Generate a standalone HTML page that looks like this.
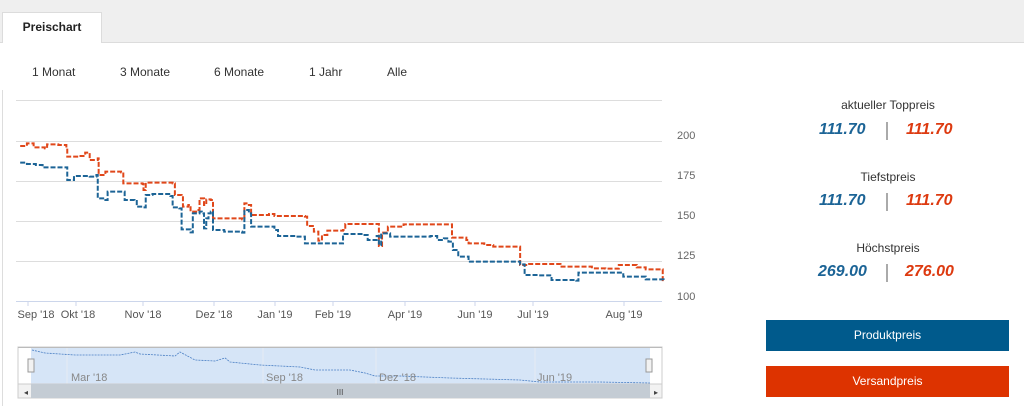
<!DOCTYPE html>
<html><head><meta charset="utf-8"><style>
body{margin:0;width:1024px;height:406px;overflow:hidden;background:#fff;font-family:"Liberation Sans",sans-serif;position:relative}
.top{position:absolute;left:0;top:0;width:1024px;height:42px;background:#efefef;border-bottom:1px solid #dcdcdc}
.tab{position:absolute;left:2px;top:12px;width:100px;height:31px;background:#fff;border:1px solid #dcdcdc;border-bottom:none;box-sizing:border-box;font-weight:bold;font-size:12px;text-align:center;line-height:28px;color:#222}
.rng{position:absolute;top:65px;font-size:12px;color:#333}
.lbl{position:absolute;width:240px;left:768px;text-align:center;font-size:12px;color:#333}
.pr{position:absolute;font-size:16px;font-weight:bold;font-style:italic}
.b{color:#1c6496}.r{color:#dd3a10}
.sep{position:absolute;left:886px;width:2px;height:18px;background:#aaa}
.btn{position:absolute;left:766px;width:243px;height:31px;color:#fff;font-size:12px;text-align:center;line-height:31px}
</style></head><body>
<div class="top"></div><div class="tab">Preischart</div>
<div class="rng" style="left:32px">1 Monat</div>
<div class="rng" style="left:120px">3 Monate</div>
<div class="rng" style="left:214px">6 Monate</div>
<div class="rng" style="left:309px">1 Jahr</div>
<div class="rng" style="left:387px">Alle</div>
<div style="position:absolute;left:2px;top:90px;width:1px;height:316px;background:#ddd"></div>

<svg width="1024" height="406" style="position:absolute;left:0;top:0" font-family="Liberation Sans, sans-serif">
<g stroke="#ddd" stroke-width="1">
<line x1="16" y1="100.5" x2="662" y2="100.5"/><line x1="16" y1="141.5" x2="662" y2="141.5"/>
<line x1="16" y1="181.5" x2="662" y2="181.5"/><line x1="16" y1="221.5" x2="662" y2="221.5"/>
<line x1="16" y1="261.5" x2="662" y2="261.5"/>
</g>
<line x1="16" y1="301.5" x2="662" y2="301.5" stroke="#ccd6eb"/>
<g stroke="#ccd6eb"><line x1="28" y1="301" x2="28" y2="306"/><line x1="76" y1="301" x2="76" y2="306"/><line x1="143" y1="301" x2="143" y2="306"/><line x1="214" y1="301" x2="214" y2="306"/><line x1="275" y1="301" x2="275" y2="306"/><line x1="333" y1="301" x2="333" y2="306"/><line x1="405" y1="301" x2="405" y2="306"/><line x1="475" y1="301" x2="475" y2="306"/><line x1="533" y1="301" x2="533" y2="306"/><line x1="624" y1="301" x2="624" y2="306"/></g>
<g fill="#666" font-size="11">
<text x="677" y="139">200</text><text x="677" y="179">175</text><text x="677" y="219">150</text><text x="677" y="259">125</text><text x="677" y="300">100</text>
</g>
<g fill="#555" font-size="11" text-anchor="middle">
<text x="36" y="318">Sep '18</text><text x="78" y="318">Okt '18</text><text x="143" y="318">Nov '18</text><text x="214" y="318">Dez '18</text><text x="275" y="318">Jan '19</text><text x="333" y="318">Feb '19</text><text x="405" y="318">Apr '19</text><text x="475" y="318">Jun '19</text><text x="533" y="318">Jul '19</text><text x="624" y="318">Aug '19</text>
</g>
<g transform="translate(0,90) scale(0.4484,0.3333)" fill="none" stroke-width="2" stroke-dasharray="5,2">
<path id="po" stroke="#e0471a" vector-effect="non-scaling-stroke"/>
<path id="pb" stroke="#1c6496" vector-effect="non-scaling-stroke"/>
</g>
<!-- navigator -->
<rect x="18" y="347" width="644" height="37" fill="#fff" stroke="#ccc"/>
<rect x="31" y="347" width="619" height="37" fill="#d6e5f7"/>
<g stroke="#e6ecf3"><line x1="67" y1="347" x2="67" y2="384"/><line x1="263" y1="347" x2="263" y2="384"/><line x1="376" y1="347" x2="376" y2="384"/><line x1="535" y1="347" x2="535" y2="384"/></g>
<line x1="18" y1="347.5" x2="662" y2="347.5" stroke="#bbb"/>
<polyline fill="none" stroke="#4a7fc4" stroke-width="0.8" stroke-dasharray="2,1" points="32,350 45,353 60,354 75,355 120,355 135,352 140,354 175,356 180,352 195,360 215,361 225,358 230,362 260,365 300,367 315,370 350,370 365,373 375,376 400,376 450,378 520,380 540,382 600,382 650,383"/>
<g fill="#888" font-size="11"><text x="71" y="381">Mar '18</text><text x="266" y="381">Sep '18</text><text x="379" y="381">Dez '18</text><text x="537" y="381">Jun '19</text></g>
<rect x="28" y="359" width="6" height="13" fill="#f2f2f2" stroke="#999"/>
<rect x="646" y="359" width="6" height="13" fill="#f2f2f2" stroke="#999"/>
<rect x="18" y="384" width="644" height="14" fill="#f2f2f2" stroke="#ccc"/>
<rect x="31" y="384" width="619" height="14" fill="#c4ccd4"/>
<text x="340" y="395" font-size="8" fill="#444" text-anchor="middle">III</text>
<text x="24" y="395" font-size="8" fill="#444">◂</text><text x="654" y="395" font-size="8" fill="#444">▸</text>
</svg>

<div class="lbl" style="top:98px">aktueller Toppreis</div>
<div class="pr b" style="left:819px;top:121px">111.70</div><div class="sep" style="top:122px"></div><div class="pr r" style="left:906px;top:121px">111.70</div>
<div class="lbl" style="top:170px">Tiefstpreis</div>
<div class="pr b" style="left:819px;top:192px">111.70</div><div class="sep" style="top:193px"></div><div class="pr r" style="left:906px;top:192px">111.70</div>
<div class="lbl" style="top:241px">Höchstpreis</div>
<div class="pr b" style="left:818px;top:263px">269.00</div><div class="sep" style="top:264px"></div><div class="pr r" style="left:905px;top:263px">276.00</div>
<div class="btn" style="top:320px;background:#005a8c">Produktpreis</div>
<div class="btn" style="top:366px;background:#dd3300">Versandpreis</div>
<script>
function step(p){var d="M"+p[0]+" "+p[1];for(var i=2;i<p.length;i+=2){d+=" H"+p[i]+" V"+p[i+1];}return d;}
var o=[45,168,60,160,75,172,100,175,105,163,130,165,148,175,150,200,175,198,190,188,200,210,218,205,220,255,235,245,270,247,275,280,318,282,320,300,325,278,385,280,390,315,405,318,408,350,420,345,425,365,440,360,445,325,455,345,460,328,470,330,475,385,540,388,545,340,555,345,560,375,600,372,612,378,680,380,685,408,700,425,710,452,718,435,730,422,765,420,770,402,840,402,845,468,852,428,865,410,900,403,1005,403,1008,443,1040,450,1045,460,1080,465,1100,470,1155,470,1160,525,1180,522,1250,530,1320,535,1350,536,1380,525,1420,532,1440,538,1478,538,1478,575];
var b=[45,218,60,222,80,225,95,232,148,232,150,270,165,258,200,260,215,255,218,325,235,330,240,305,270,305,278,330,300,333,305,350,320,352,325,315,340,312,380,318,385,352,400,355,405,418,425,427,430,370,445,365,450,370,455,415,460,385,465,370,470,365,475,420,500,425,540,428,545,360,555,370,560,410,600,410,612,420,620,438,660,440,680,460,740,460,765,432,810,435,820,450,840,438,845,465,850,430,870,440,960,438,975,450,990,445,1000,455,1010,480,1022,500,1045,515,1150,515,1160,523,1170,555,1200,556,1230,570,1285,572,1290,548,1385,548,1390,560,1440,568,1480,570];
document.getElementById("po").setAttribute("d",step(o));
document.getElementById("pb").setAttribute("d",step(b));
</script>
</body></html>
